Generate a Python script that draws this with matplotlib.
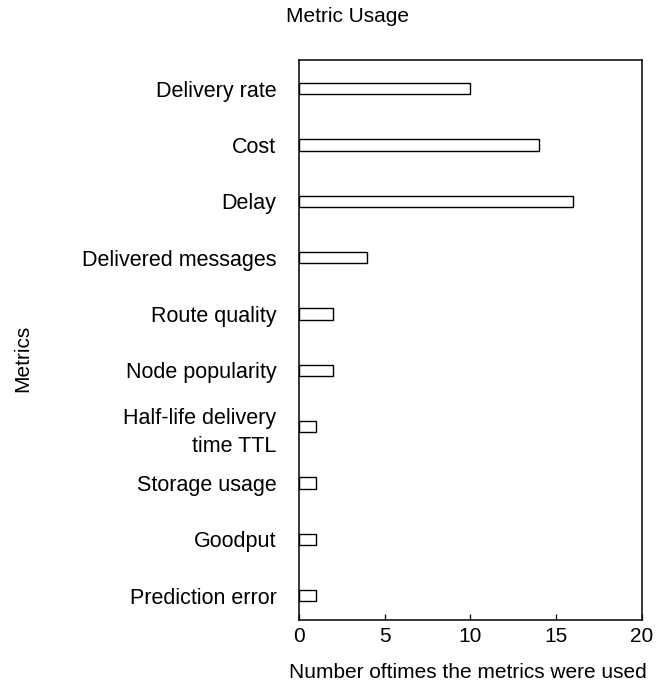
import matplotlib
matplotlib.use("Agg")
import matplotlib.pyplot as plt
import numpy as np

plt.rcParams['font.family'] = ['Liberation Sans', 'DejaVu Sans']

metrics = ["Delivery rate", "Cost", "Delay", "Delivered messages", "Route quality",
           "Node popularity", "Half-life delivery\ntime TTL", "Storage usage",
           "Goodput", "Prediction error"]
counts = [10, 14, 16, 4, 2, 2, 1, 1, 1, 1]
xticks = [0, 5, 10, 15, 20]

fig = plt.figure(figsize=(6.58, 6.84), dpi=100)
ax = fig.add_axes([298.7/658, 1-620/684, (642-298.7)/658, (620-60)/684])

n = len(metrics)
ypos = np.arange(n)[::-1]
ax.barh(ypos, counts, height=0.2, color='white', edgecolor='black', linewidth=1.0)

ax.set_xlim(0, 20)
ax.set_ylim(-0.43, n - 1 + 0.51)
ax.set_xticks(xticks)
ax.set_xticklabels([str(t) for t in xticks], fontsize=15)
ax.set_yticks(ypos)
ax.set_yticklabels(metrics, fontsize=15.5, ha='right', multialignment='right',
                   linespacing=1.4)
ax.tick_params(axis='y', length=0, pad=16)
ax.tick_params(axis='x', direction='in', length=4.3, width=0.9, pad=5, top=False)
for s in ax.spines.values():
    s.set_linewidth(1.1)
    s.set_color('black')

fig.text(348/658, 1-17/684, "Metric Usage", ha='center', va='center', fontsize=15)
fig.text(468/658, 1-672/684, "Number oftimes the metrics were used", ha='center', va='center', fontsize=15)
fig.text(23/658, 1-358/684, "Metrics", ha='center', va='center', rotation=90, fontsize=15)

fig.savefig("out.png", dpi=100)
